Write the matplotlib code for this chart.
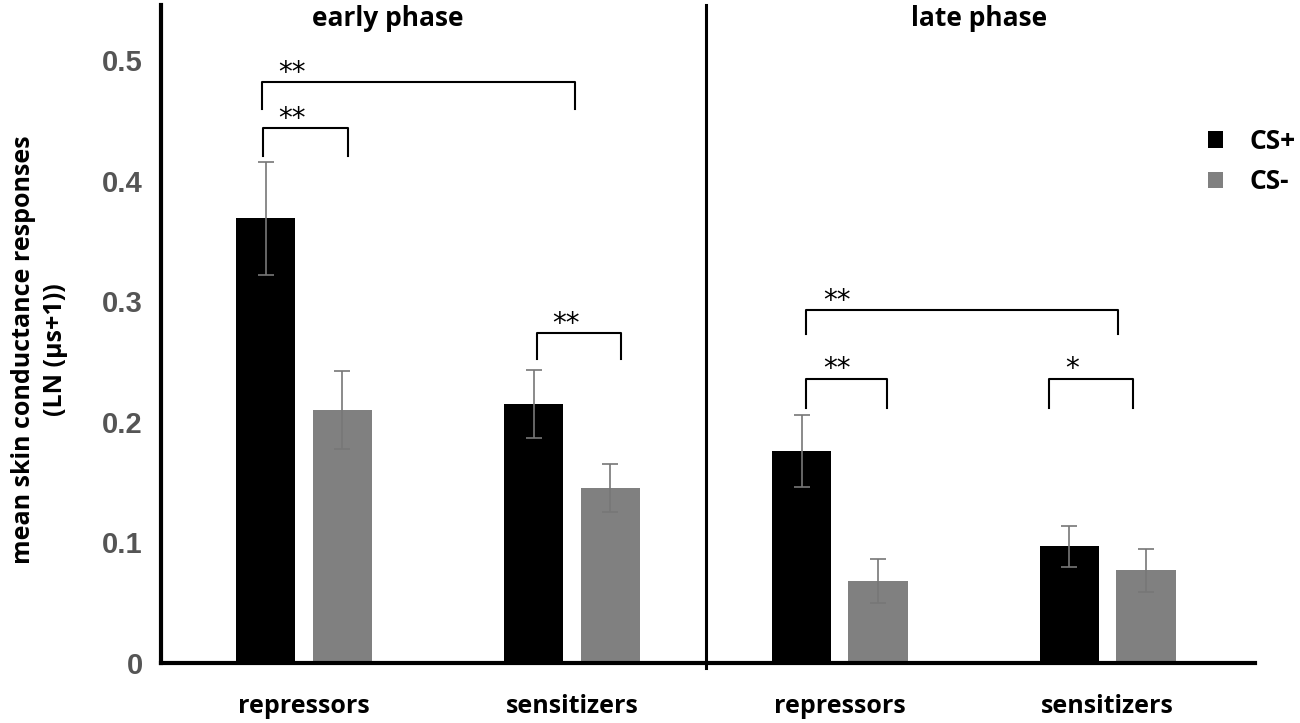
import numpy as np
import matplotlib.pyplot as plt

# data
groups = ['repressors', 'sensitizers', 'repressors', 'sensitizers']
phases = ['early phase', 'late phase']
cs_plus = [0.369, 0.215, 0.176, 0.097]
cs_plus_err = [0.047, 0.028, 0.030, 0.017]
cs_minus = [0.210, 0.145, 0.068, 0.077]
cs_minus_err = [0.032, 0.020, 0.018, 0.018]

# significance brackets: (x_left, x_right, y_top, y_leg_bottom, label, label_x)
brackets = [
    (-0.157, 1.011, 0.482, 0.460, '**', -0.045),
    (-0.153, 0.164, 0.444, 0.421, '**', -0.045),
    (0.869, 1.183, 0.274, 0.252, '**', 0.978),
    (1.873, 3.037, 0.293, 0.273, '**', 1.989),
    (1.873, 2.175, 0.236, 0.212, '**', 1.989),
    (2.780, 3.093, 0.236, 0.212, '*', 2.866),
]

x = np.arange(len(groups))
w = 0.222
off = 0.143

fig = plt.figure(figsize=(13, 7.23), dpi=100)
ax = fig.add_axes([0.1238, 0.083, 0.8415, 0.91])

ax.bar(x - off, cs_plus, w, color='black', label='CS+', zorder=2)
ax.bar(x + off, cs_minus, w, color='#808080', label='CS-', zorder=2)
ax.errorbar(x - off, cs_plus, yerr=cs_plus_err, fmt='none', ecolor='#777777',
            elinewidth=1.2, capsize=6, capthick=1.2, zorder=3)
ax.errorbar(x + off, cs_minus, yerr=cs_minus_err, fmt='none', ecolor='#777777',
            elinewidth=1.2, capsize=6, capthick=1.2, zorder=3)

for x0, x1, yt, yb, lab, lx in brackets:
    ax.plot([x0, x0, x1, x1], [yb, yt, yt, yb], color='black', lw=1.5, zorder=4)
    ax.text(lx, yt + 0.001, lab, ha='center', va='baseline', fontsize=20,
            family='DejaVu Sans', color='black')

ax.set_xlim(-0.534, 3.549)
ax.set_ylim(0, 0.546)
ax.axvline(1.5, ymin=-0.008, ymax=1, color='black', lw=2.2, clip_on=False)

for sp in ['top', 'right']:
    ax.spines[sp].set_visible(False)
ax.spines['left'].set_linewidth(3)
ax.spines['bottom'].set_linewidth(3)

ax.set_yticks([0, 0.1, 0.2, 0.3, 0.4, 0.5])
ax.set_yticklabels(['0', '0.1', '0.2', '0.3', '0.4', '0.5'])
ax.tick_params(axis='y', length=0, pad=13, labelsize=21, labelcolor='#555555')
for t in ax.get_yticklabels():
    t.set_fontweight('bold')
    t.set_family('Liberation Sans')

ax.set_xticks(x)
ax.set_xticklabels(groups)
ax.tick_params(axis='x', length=0, pad=22, labelsize=18)
for t in ax.get_xticklabels():
    t.set_fontweight('bold')
    t.set_family('Open Sans')

ax.set_ylabel('mean skin conductance responses\n(LN (\u03bcs+1))', fontsize=18,
              fontweight='bold', family='Open Sans', linespacing=1.35)
ax.yaxis.set_label_coords(-0.085, 0.476)

ax.text(0.313, 0.535, phases[0], ha='center', va='center', fontsize=19,
        fontweight='bold', family='Open Sans')
ax.text(2.52, 0.535, phases[1], ha='center', va='center', fontsize=19,
        fontweight='bold', family='Open Sans')

leg = ax.legend(loc='upper left', bbox_to_anchor=(0.935, 0.849), frameon=False,
                prop={'family': 'Open Sans', 'weight': 'bold', 'size': 19},
                handlelength=0.6, handleheight=0.6, handletextpad=1.0, labelspacing=0.5)

fig.savefig('out.png', dpi=100)
